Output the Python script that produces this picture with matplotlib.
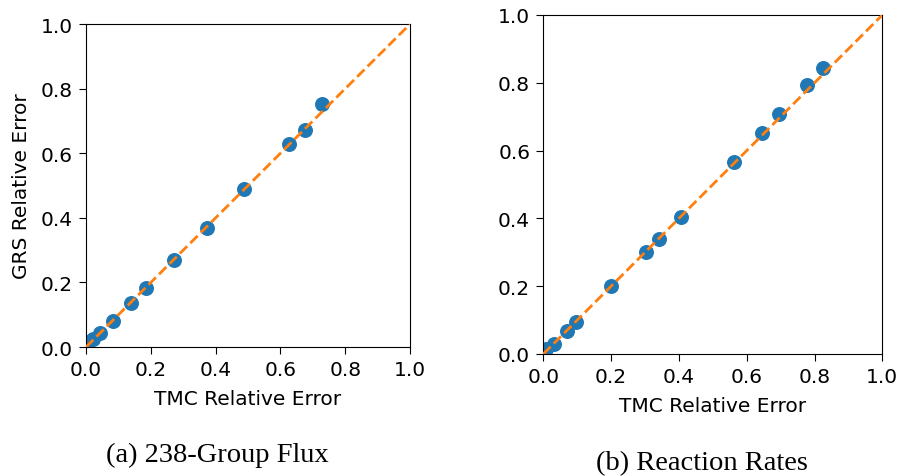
import numpy as np
import matplotlib.pyplot as plt

plt.rcParams["font.family"] = ["DejaVu Sans"]

# (a) 238-group flux
flux_tmc = [0.006, 0.022, 0.043, 0.084, 0.138, 0.185, 0.272, 0.372, 0.489, 0.625, 0.676, 0.727]
flux_grs = [0.014, 0.025, 0.042, 0.081, 0.135, 0.182, 0.268, 0.369, 0.489, 0.628, 0.673, 0.752]

# (b) reaction rates
rr_tmc = [0.008, 0.032, 0.069, 0.095, 0.200, 0.303, 0.340, 0.406, 0.563, 0.644, 0.696, 0.777, 0.826]
rr_grs = [0.015, 0.030, 0.068, 0.095, 0.200, 0.301, 0.339, 0.404, 0.566, 0.652, 0.709, 0.794, 0.844]

ticks = [0.0, 0.2, 0.4, 0.6, 0.8, 1.0]

fig = plt.figure(figsize=(9, 4.77), dpi=100)
ax1 = fig.add_axes([0.0956, 0.2704, 0.36, 0.677])
ax2 = fig.add_axes([0.6037, 0.2558, 0.3767, 0.7107])

for ax, x, y in [(ax1, flux_tmc, flux_grs), (ax2, rr_tmc, rr_grs)]:
    ax.scatter(x, y, s=95, color="C0", zorder=2)
    ax.plot([0, 1], [0, 1], "--", color="C1", linewidth=2, zorder=3)
    ax.set_xlim(0, 1)
    ax.set_ylim(0, 1)
    ax.set_xticks(ticks)
    ax.set_yticks(ticks)
    ax.tick_params(labelsize=14.5, length=5, pad=4.5)
    ax.set_xlabel("TMC Relative Error", fontsize=14.5, labelpad=7)

ax1.set_ylabel("GRS Relative Error", fontsize=14.5, labelpad=7)

fig.text(0.2417, 1 - 455.5 / 477, "(a) 238-Group Flux", ha="center", va="center",
         family="Liberation Serif", fontsize=20.5)
fig.text(0.7794, 1 - 464 / 477, "(b) Reaction Rates", ha="center", va="center",
         family="Liberation Serif", fontsize=20.5)

fig.savefig("out.png", dpi=100)
